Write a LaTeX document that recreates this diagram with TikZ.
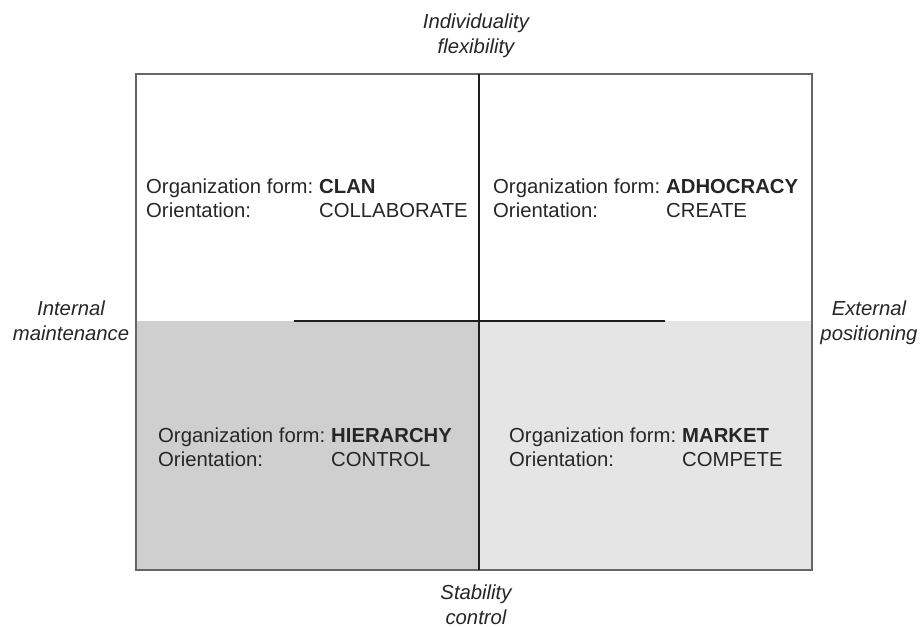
\documentclass[tikz,border=0pt]{standalone}
\usepackage{fontspec}
\setmainfont{Liberation Sans}
\colorlet{hierfill}{black!19}
\colorlet{marketfill}{black!10}
\colorlet{ink}{black!85}
\tikzset{
  frame/.style={draw=black!60,line width=1.3pt},
  divider/.style={draw=black!88,line width=2.6pt},
  quadtext/.style={anchor=base west,inner sep=0pt,text=ink,font=\fontsize{20.3}{24}\selectfont},
  axislabel/.style={anchor=base,align=center,inner sep=0pt,text=ink,font=\fontsize{20.3}{25}\selectfont\itshape},
}
\newcommand{\orgquad}[2]{%
  \begin{tabular}[t]{@{}l@{}l@{}}
    \makebox[173pt][l]{Organization form:} & \textbf{#1}\\
    Orientation: & #2
  \end{tabular}}

\begin{document}
\begin{tikzpicture}[x=1pt,y=-1pt]
  \useasboundingbox (0,0) rectangle (922,627);
  % corners and ends of the two axes
  \coordinate (nw) at (136,74);
  \coordinate (se) at (812,570);
  \coordinate (west) at (136,321);
  \coordinate (east) at (812,321);
  \coordinate (vtop) at (479,74);
  \coordinate (vbot) at (479,570);
  \coordinate (hleft) at (294,321);
  \coordinate (hright) at (665,321);
  % lower quadrants
  \fill[hierfill] (west) rectangle (vbot);
  \fill[marketfill] (vbot) rectangle (east);
  \draw[frame] (nw) rectangle (se);
  \draw[divider] (vtop) -- (vbot);
  \draw[divider] (hleft) -- (hright);
  % quadrant texts
  \node[quadtext] (clan) at (146,193) {\orgquad{CLAN}{COLLABORATE}};
  \node[quadtext] (adhocracy) at (493,193) {\orgquad{ADHOCRACY}{CREATE}};
  \node[quadtext] (hierarchy) at (158,442) {\orgquad{HIERARCHY}{CONTROL}};
  \node[quadtext] (market) at (509,442) {\orgquad{MARKET}{COMPETE}};
  % axis labels (anchored on the last line)
  \node[axislabel] (flexibility) at (476,53) {Individuality\\flexibility};
  \node[axislabel] (internal) at (71,340) {Internal\\maintenance};
  \node[axislabel] (external) at (869,340) {External\\positioning};
  \node[axislabel] (stability) at (476,624) {Stability\\control};
\end{tikzpicture}
\end{document}
